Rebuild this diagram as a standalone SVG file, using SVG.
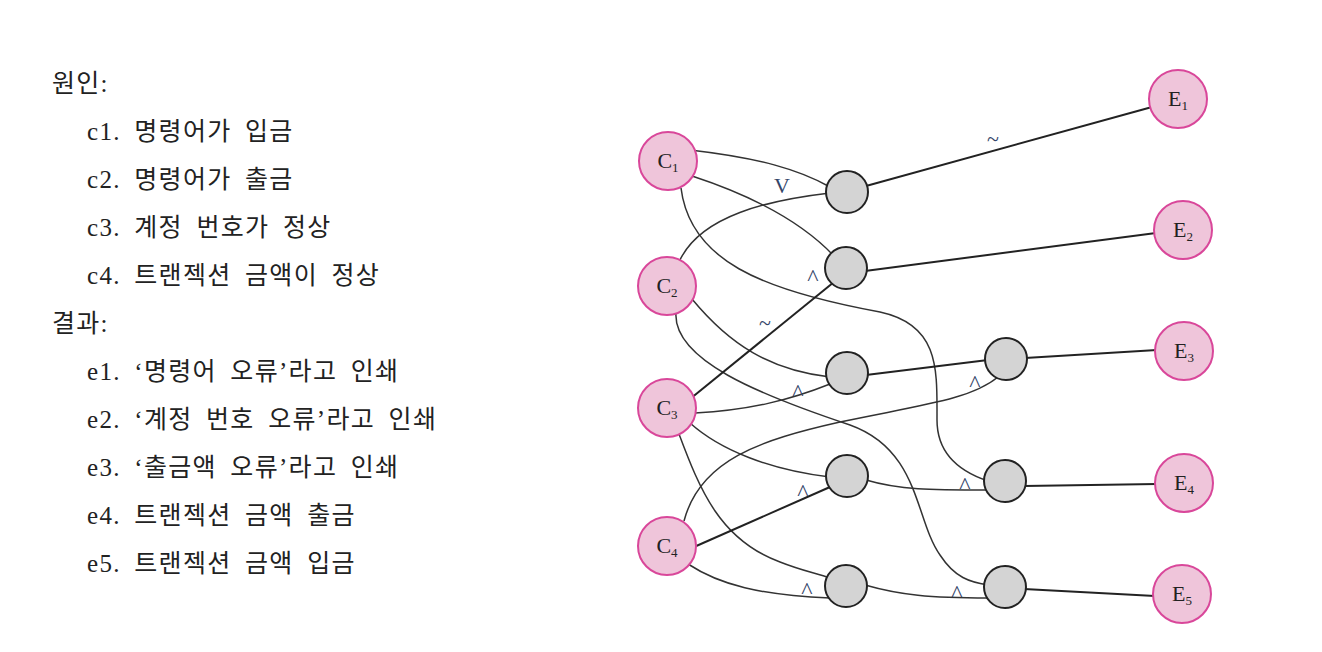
<svg xmlns="http://www.w3.org/2000/svg" width="1322" height="652" viewBox="0 0 1322 652">
<style>
.t{font-family:"Liberation Serif","Noto Sans CJK KR",serif;font-size:25px;fill:#222;word-spacing:6px;letter-spacing:1.3px}
.c{fill:#efc5da;stroke:#d9479a;stroke-width:2}
.g{fill:#d4d4d4;stroke:#222;stroke-width:2}
.lb{font-family:"Liberation Serif",serif;font-size:22px;fill:#222;text-anchor:middle}
.sub{font-size:13px}
.w{fill:none;stroke:#333;stroke-width:1.5}
.s{fill:none;stroke:#222;stroke-width:2}
.op{font-family:"Liberation Serif",serif;font-size:24px;fill:#34456a;text-anchor:middle}
</style>
<rect width="1322" height="652" fill="#fff"/>
<g id="legend">
<text class="t" x="52" y="92">원인:</text>
<text class="t" x="87" y="140">c1. 명령어가 입금</text>
<text class="t" x="87" y="188">c2. 명령어가 출금</text>
<text class="t" x="87" y="236">c3. 계정 번호가 정상</text>
<text class="t" x="87" y="284">c4. 트랜젝션 금액이 정상</text>
<text class="t" x="52" y="332">결과:</text>
<text class="t" x="87" y="380">e1. ‘명령어 오류’라고 인쇄</text>
<text class="t" x="87" y="428">e2. ‘계정 번호 오류’라고 인쇄</text>
<text class="t" x="87" y="476">e3. ‘출금액 오류’라고 인쇄</text>
<text class="t" x="87" y="524">e4. 트랜젝션 금액 출금</text>
<text class="t" x="87" y="572">e5. 트랜젝션 금액 입금</text>
</g>
<g id="connectors">
<path class="w" d="M690,150 C760,158 800,170 830,187"/>
<path class="w" d="M692,176 C750,195 800,220 834,256"/>
<path class="w" d="M679,262 C700,215 770,200 830,193"/>
<path class="w" d="M681,188 C690,260 760,290 880,312 C940,325 937,370 937,420 C937,450 955,470 988,481"/>
<path class="w" d="M692,299 C730,345 770,370 830,377"/>
<path class="w" d="M676,312 C672,360 760,395 850,425 C920,450 915,520 940,555 C955,578 970,582 988,585"/>
<path class="w" d="M684,521 C700,460 760,440 840,422 C920,405 970,400 998,377"/>
<path class="s" d="M690,399 L834,282"/>
<path class="w" d="M695,413 C750,410 790,400 830,384"/>
<path class="w" d="M690,423 C720,450 770,470 830,477"/>
<path class="w" d="M679,434 C700,490 720,540 780,562 C800,570 815,573 830,578"/>
<path class="s" d="M694,547 L830,487"/>
<path class="w" d="M688,564 C720,585 760,595 830,598"/>
<path class="w" d="M866,480 C900,490 930,490 988,490"/>
<path class="w" d="M865,585 C900,595 930,598 988,598"/>
<path class="s" d="M866,375 L988,360"/>
<path class="s" d="M866,186 L1152,107"/>
<path class="s" d="M865,271 L1156,233"/>
<path class="s" d="M1025,358 L1157,350"/>
<path class="s" d="M1024,486 L1157,484"/>
<path class="s" d="M1024,589 L1155,596"/>
<text class="op" x="782" y="193" style="font-size:22px">V</text>
<text class="op" x="993" y="146" style="font-size:22px">~</text>
<text class="op" x="813" y="285">^</text>
<text class="op" x="765" y="330" style="font-size:22px">~</text>
<text class="op" x="798" y="400">^</text>
<text class="op" x="975" y="391">^</text>
<text class="op" x="803" y="500">^</text>
<text class="op" x="965" y="493">^</text>
<text class="op" x="807" y="598">^</text>
<text class="op" x="957" y="601">^</text>
</g>
<g id="C1"><circle class="c" cx="668" cy="161" r="29"/><text class="lb" x="668" y="168">C<tspan class="sub" dy="4">1</tspan></text></g>
<g id="C2"><circle class="c" cx="667" cy="286" r="29"/><text class="lb" x="667" y="293">C<tspan class="sub" dy="4">2</tspan></text></g>
<g id="C3"><circle class="c" cx="667" cy="408" r="29"/><text class="lb" x="667" y="415">C<tspan class="sub" dy="4">3</tspan></text></g>
<g id="C4"><circle class="c" cx="667" cy="546" r="29"/><text class="lb" x="667" y="553">C<tspan class="sub" dy="4">4</tspan></text></g>
<g id="G1"><circle class="g" cx="847" cy="192" r="21"/></g>
<g id="G2"><circle class="g" cx="846" cy="268" r="21"/></g>
<g id="G3"><circle class="g" cx="847" cy="373" r="21"/></g>
<g id="G4"><circle class="g" cx="847" cy="476" r="21"/></g>
<g id="G5"><circle class="g" cx="846" cy="586" r="21"/></g>
<g id="G6"><circle class="g" cx="1006" cy="359" r="21"/></g>
<g id="G7"><circle class="g" cx="1005" cy="481" r="21"/></g>
<g id="G8"><circle class="g" cx="1005" cy="587" r="21"/></g>
<g id="E1"><circle class="c" cx="1178" cy="99" r="29"/><text class="lb" x="1178" y="106">E<tspan class="sub" dy="4">1</tspan></text></g>
<g id="E2"><circle class="c" cx="1183" cy="230" r="29"/><text class="lb" x="1183" y="237">E<tspan class="sub" dy="4">2</tspan></text></g>
<g id="E3"><circle class="c" cx="1184" cy="351" r="29"/><text class="lb" x="1184" y="358">E<tspan class="sub" dy="4">3</tspan></text></g>
<g id="E4"><circle class="c" cx="1184" cy="483" r="29"/><text class="lb" x="1184" y="490">E<tspan class="sub" dy="4">4</tspan></text></g>
<g id="E5"><circle class="c" cx="1182" cy="594" r="29"/><text class="lb" x="1182" y="601">E<tspan class="sub" dy="4">5</tspan></text></g>
</svg>
